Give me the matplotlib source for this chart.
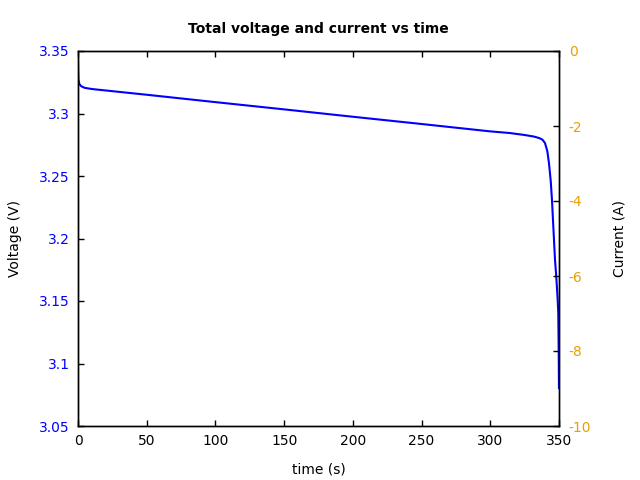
import numpy as np
import matplotlib
matplotlib.use("Agg")
import matplotlib.pyplot as plt
from matplotlib.ticker import FuncFormatter

# ── DATA ──────────────────────────────────────────────────
time_s = [0, 0.1, 0.3, 1, 2, 3, 5, 10, 16, 50, 100, 150, 200, 250, 300,
          314, 325, 332, 336, 338, 339.8, 341.5, 342.7, 344, 344.9, 346,
          347.1, 348, 349, 349.5, 349.8, 350]
voltage_v = [3.3422, 3.335, 3.327, 3.3235, 3.3222, 3.3214, 3.3205, 3.3196,
             3.3189, 3.3150, 3.3091, 3.3033, 3.2974, 3.2916, 3.2857,
             3.2844, 3.2828, 3.2815, 3.2802, 3.2790, 3.2764, 3.2700, 3.2604,
             3.2460, 3.2308, 3.2070, 3.1830, 3.1700, 3.1520, 3.1400, 3.1100, 3.0804]

x_ticks = [0, 50, 100, 150, 200, 250, 300, 350]
v_ticks = [3.05, 3.1, 3.15, 3.2, 3.25, 3.3, 3.35]
i_ticks = [0, -2, -4, -6, -8, -10]

BLUE = "#0000FF"
ORANGE = "#E8A000"

plt.rcParams["font.family"] = "DejaVu Sans"
plt.rcParams["axes.unicode_minus"] = False

fig, ax = plt.subplots(figsize=(6.4, 4.8), dpi=100)
fig.subplots_adjust(left=0.1219, right=0.8734, top=0.89375, bottom=0.1125)

ax.plot(time_s, voltage_v, color=BLUE, linewidth=1.5)
ax.set_xlim(0, 350)
ax.set_ylim(3.05, 3.35)
ax.set_xticks(x_ticks)
ax.set_yticks(v_ticks)
ax.yaxis.set_major_formatter(FuncFormatter(lambda v, p: f"{v:g}"))
ax.tick_params(axis="x", direction="in", top=True, length=4.5, width=1,
               labelsize=10, pad=6)
ax.tick_params(axis="y", direction="in", right=False, length=4.5, width=1,
               labelsize=10, pad=6, labelcolor=BLUE)
ax.set_xlabel("time (s)", fontsize=10, labelpad=10)
ax.set_ylabel("Voltage (V)", fontsize=10, labelpad=12)
ax.set_title("Total voltage and current vs time", fontsize=10,
             fontweight="bold", pad=13)

ax2 = ax.twinx()
ax2.set_ylim(-10, 0)
ax2.set_yticks(i_ticks)
ax2.tick_params(axis="y", direction="in", length=4.5, width=1,
                labelsize=10, pad=7, labelcolor=ORANGE)
ax2.set_ylabel("Current (A)", fontsize=10, labelpad=15)

for a in (ax, ax2):
    for s in a.spines.values():
        s.set_linewidth(1)
        s.set_color("black")

plt.savefig("out.png", dpi=100)
